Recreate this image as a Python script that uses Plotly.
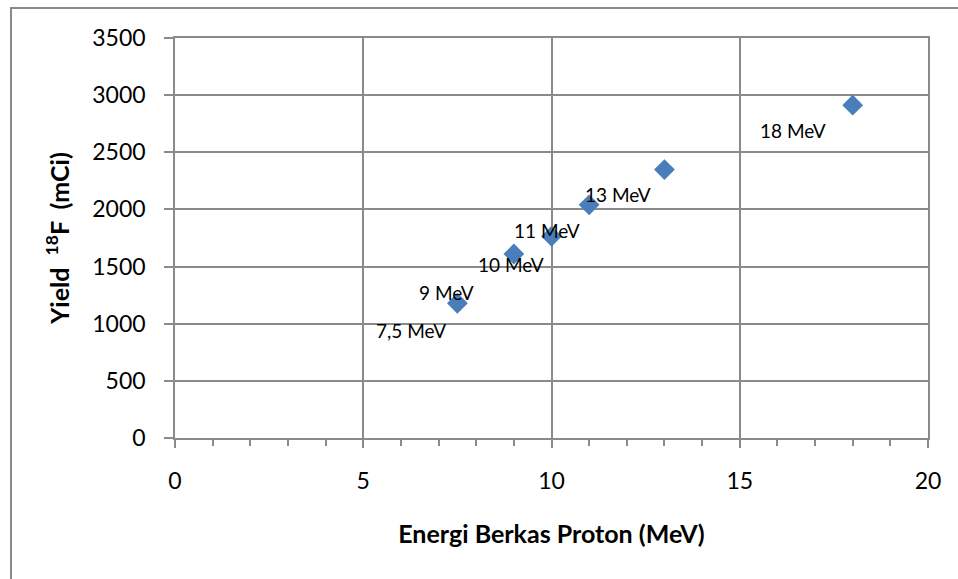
import plotly.graph_objects as go

energy = [7.5, 9, 10, 11, 13, 18]
yield_mci = [1179, 1610, 1765, 2040, 2349, 2912]
point_labels = ["7,5 MeV", "9 MeV", "10 MeV", "11 MeV", "13 MeV", "18 MeV"]
label_shift_x = [-46, -67, -41, -42, -46, -60]
label_shift_y = [-27, -38, -28, -26, -25, -25]

x_ticks = [0, 5, 10, 15, 20]
y_ticks = [0, 500, 1000, 1500, 2000, 2500, 3000, 3500]

GRID = "#8a8a8a"
FONT = "Lato"

fig = go.Figure()
fig.add_trace(go.Scatter(
    x=energy, y=yield_mci, mode="markers",
    marker=dict(symbol="diamond", size=16, color="#4a7ebb",
                line=dict(width=0)),
    showlegend=False, cliponaxis=False,
))

for x, y, t, dx, dy in zip(energy, yield_mci, point_labels, label_shift_x, label_shift_y):
    fig.add_annotation(x=x, y=y, text=t, showarrow=False,
                       xshift=dx, yshift=dy,
                       font=dict(family=FONT, size=19, color="#000000"))

fig.add_shape(type="rect", xref="paper", yref="paper",
              x0=(11 - 175) / 753, x1=1.3, y0=-0.6, y1=(438 - 8) / 400,
              line=dict(color=GRID, width=2), layer="below")

fig.update_layout(
    width=958, height=579,
    margin=dict(l=175, r=30, t=38, b=141),
    paper_bgcolor="white", plot_bgcolor="white",
    font=dict(family=FONT, size=23, color="#000000"),
)
fig.update_xaxes(
    range=[0, 20], tickvals=x_ticks, ticktext=[str(v) for v in x_ticks],
    showgrid=True, gridcolor=GRID, gridwidth=1.5,
    showline=True, linecolor=GRID, linewidth=1.5, mirror=True,
    zeroline=False,
    ticks="outside", ticklen=8, tickcolor=GRID, tickwidth=1.5,
    minor=dict(dtick=1, ticks="outside", ticklen=6, tickcolor=GRID,
               tickwidth=1.5, showgrid=False),
    tickfont=dict(family=FONT, size=23),
    ticklabelstandoff=14,
    title=dict(text="<b>Energi Berkas Proton (MeV)</b>",
               font=dict(family=FONT, size=25), standoff=32),
)
fig.update_yaxes(
    range=[0, 3500], tickvals=y_ticks, ticktext=[str(v) for v in y_ticks],
    showgrid=True, gridcolor=GRID, gridwidth=1.5,
    showline=True, linecolor=GRID, linewidth=1.5, mirror=True,
    zeroline=False,
    ticks="outside", ticklen=9, tickcolor=GRID, tickwidth=1.5,
    tickfont=dict(family=FONT, size=23),
    ticklabelstandoff=14,
    title=dict(text="<b>Yield  <sup>18</sup>F  (mCi)</b>",
               font=dict(family=FONT, size=25), standoff=16),
)

fig.write_html("out.html")
